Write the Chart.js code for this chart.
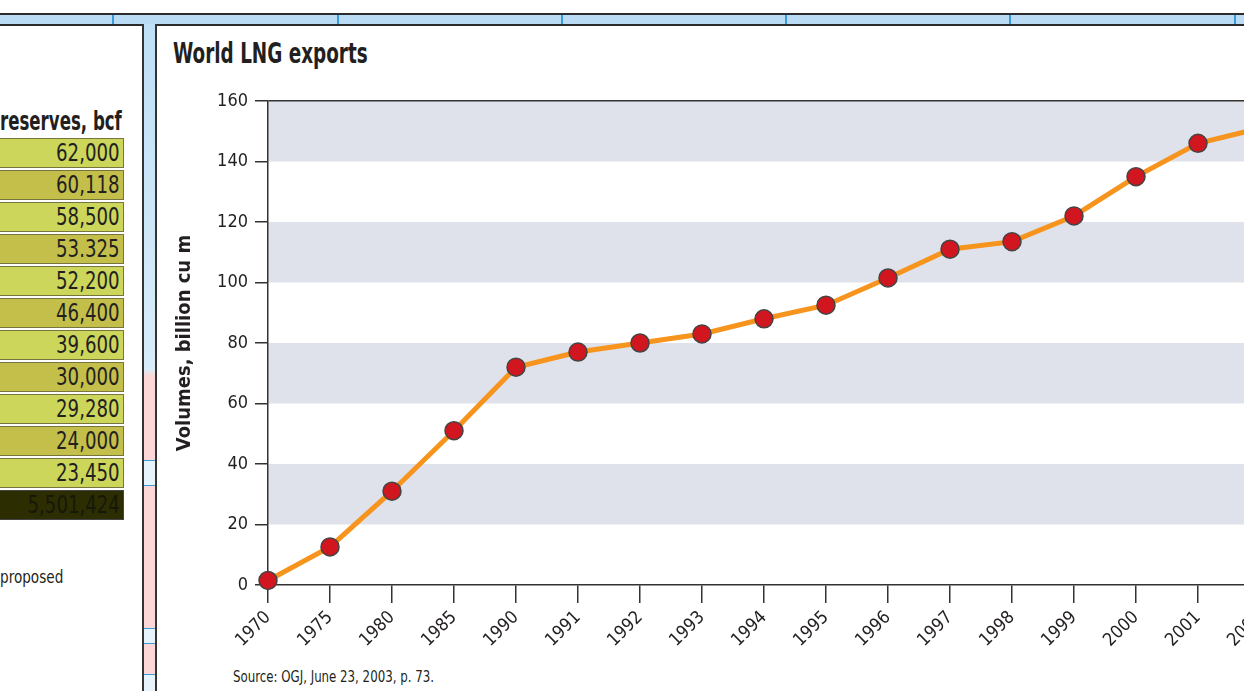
<!DOCTYPE html>
<html>
<head>
<meta charset="utf-8">
<script src="https://cdn.jsdelivr.net/npm/chart.js@4.4.1/dist/chart.umd.min.js"></script>
<style>
  body { margin: 0; width: 1244px; height: 691px; overflow: hidden; position: relative; background: #fff;
         font-family: "DejaVu Sans Condensed", "Liberation Sans", sans-serif; color: #231f20; }
  .topbar { position: absolute; left: 0; top: 13px; width: 1244px; height: 9px; background: #b9dcf4;
            border-top: 2px solid #2b2b2b; border-bottom: 2px solid #2b2b2b; }
  .sep { position: absolute; top: 15px; width: 2px; height: 9px; background: #3d9ad6; }
  .strip { position: absolute; left: 142px; top: 24px; width: 11px; height: 667px;
           border-left: 2px solid #333; border-right: 2px solid #333;
           background: linear-gradient(#bfe0f6 0, #d8ecf9 345px, #fbd7d7 352px, #fbd7d7 100%); }
  .patch { position: absolute; left: 0; width: 11px; background: #e6f3fb; border-top: 1px solid #3d9ad6; border-bottom: 1px solid #3d9ad6; }
  .cond { position: absolute; white-space: nowrap; }
  .hdr { left: 0; top: 106px; font-size: 26px; font-weight: bold; transform: scaleX(0.71); transform-origin: 0 0; }
  .row { position: absolute; left: -4px; width: 126px; height: 28px; border: 1px solid #77753e; overflow: hidden; }
  .row span { position: absolute; right: 3px; top: 0; font-size: 24px; line-height: 29px;
              transform: scaleX(0.84); transform-origin: 100% 0; white-space: nowrap; }
  .note { left: 0; top: 566px; font-size: 18px; transform: scaleX(0.84); transform-origin: 0 0; }
  .src { left: 233px; top: 667px; font-size: 16px; transform: scaleX(0.82); transform-origin: 0 0; }
  .title { left: 173px; top: 38px; font-size: 28px; line-height: 32px; font-weight: bold; transform: scaleX(0.73); transform-origin: 0 0; }
  #chart { position: absolute; left: 156px; top: 25px; }
</style>
</head>
<body>
<div class="topbar"></div>
<div class="sep" style="left:112px"></div>
<div class="sep" style="left:337px"></div>
<div class="sep" style="left:561px"></div>
<div class="sep" style="left:785px"></div>
<div class="sep" style="left:1009px"></div>
<div class="sep" style="left:1234px"></div>
<div class="strip">
  <div class="patch" style="top:436px;height:24px"></div>
  <div class="patch" style="top:604px;height:14px"></div>
  <div class="patch" style="top:650px;height:20px;border-bottom:none"></div>
</div>
<div class="cond hdr">reserves, bcf</div>
<div id="rows"></div>
<div class="cond note">proposed</div>
<div class="cond title">World LNG exports</div>
<div class="cond src">Source: OGJ, June 23, 2003, p. 73.</div>
<canvas id="chart" width="1124" height="625"></canvas>
<script>
// left table (reserves, bcf)
var reserves = ['62,000', '60,118', '58,500', '53.325', '52,200', '46,400', '39,600', '30,000', '29,280', '24,000', '23,450', '5,501,424'];

// World LNG exports, billion cu m
var years = ['1970', '1975', '1980', '1985', '1990', '1991', '1992', '1993', '1994', '1995', '1996', '1997', '1998', '1999', '2000', '2001', '2002'];
var exportsBcm = [1.5, 12.6, 31, 51, 72, 77, 80, 83, 88, 92.5, 101.5, 111, 113.5, 122, 135, 146, 151];
var yTicks = { min: 0, max: 160, step: 20 };

var FONT = '"DejaVu Sans Condensed", "Liberation Sans", sans-serif';

var rowsEl = document.getElementById('rows');
reserves.forEach(function (v, i) {
    var d = document.createElement('div');
    d.className = 'row';
    d.style.top = (138 + i * 32) + 'px';
    var s = document.createElement('span');
    s.textContent = v;
    d.appendChild(s);
    if (i === reserves.length - 1) {
        d.style.background = '#2c2e02';
        s.style.color = '#17180a';
        d.style.borderColor = '#444';
    } else {
        d.style.background = i % 2 ? '#c4bf4b' : '#ccd65b';
    }
    rowsEl.appendChild(d);
});

// grey bands every other 20 units
var bands = {
    id: 'bands',
    beforeDraw: function (chart) {
        var c = chart.ctx, a = chart.chartArea, y = chart.scales.y;
        c.save();
        c.fillStyle = '#dfe2ea';
        for (var v = yTicks.max; v > yTicks.min; v -= 2 * yTicks.step) {
            var top = y.getPixelForValue(v), bot = y.getPixelForValue(v - yTicks.step);
            c.fillRect(a.left, top, a.right - a.left, bot - top);
        }
        c.restore();
    }
};

var ctx = document.getElementById('chart').getContext('2d');
var chart = new Chart(ctx, {
    type: 'line',
    data: {
        labels: years,
        datasets: [{
            data: exportsBcm,
            borderColor: '#f7941d',
            borderWidth: 5,
            pointRadius: 9,
            pointBackgroundColor: '#d1161f',
            pointBorderColor: '#444',
            pointBorderWidth: 1.5,
            tension: 0,
            clip: false
        }]
    },
    options: {
        responsive: false,
        animation: false,
        layout: { padding: { left: 17, right: 20, top: 76, bottom: 0 } },
        plugins: {
            legend: { display: false },
            tooltip: { enabled: false }
        },
        scales: {
            x: {
                offset: false,
                grid: { drawOnChartArea: false, tickLength: 18, tickColor: '#333', lineWidth: 1.5 },
                border: { color: '#333', width: 1.5 },
                ticks: { autoSkip: false, maxRotation: 45, minRotation: 45, padding: 4, color: '#231f20',
                         font: { family: FONT, size: 18 } },
                afterFit: function (s) { s.height = 65; }
            },
            y: {
                min: yTicks.min,
                max: yTicks.max,
                grid: {
                    color: function (c) { return c.tick && c.tick.value === yTicks.max ? '#333' : 'rgba(0,0,0,0)'; },
                    tickColor: '#333', tickLength: 13, lineWidth: 1.5
                },
                border: { color: '#333', width: 1.5 },
                ticks: { stepSize: yTicks.step, padding: 7, color: '#231f20', font: { family: FONT, size: 18 } },
                title: { display: true, text: 'Volumes, billion cu m', color: '#231f20',
                         font: { family: FONT, size: 20, weight: 'bold' }, padding: 0 },
                afterFit: function (s) { s.width = 95; }
            }
        }
    },
    plugins: [bands]
});
</script>
</body>
</html>
